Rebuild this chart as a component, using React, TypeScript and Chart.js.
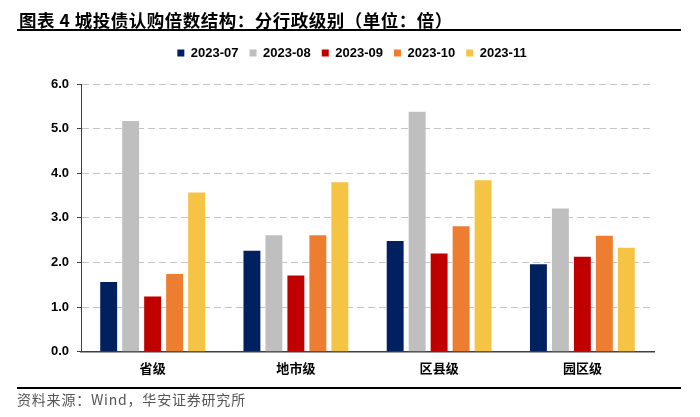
import React, { useEffect, useRef } from "react";
import { Chart, registerables } from "chart.js";

Chart.register(...registerables);

const categories = ["省级", "地市级", "区县级", "园区级"];
const seriesNames = ["2023-07", "2023-08", "2023-09", "2023-10", "2023-11"];
const values202307 = [1.56, 2.26, 2.48, 1.96];
const values202308 = [5.17, 2.61, 5.38, 3.21];
const values202309 = [1.24, 1.71, 2.2, 2.13];
const values202310 = [1.74, 2.61, 2.81, 2.6];
const values202311 = [3.57, 3.8, 3.84, 2.33];
const seriesColors = ["#002060", "#BFBFBF", "#C00000", "#ED7D31", "#F6C445"];
const yMin = 0;
const yMax = 6;
const yStep = 1;

const titleText = "图表 4 城投债认购倍数结构：分行政级别（单位：倍）";
const sourceText = "资料来源：Wind，华安证券研究所";

export default function App() {
  const canvasRef = useRef<HTMLCanvasElement | null>(null);

  useEffect(() => {
    const canvas = canvasRef.current;
    if (!canvas) return;
    const allValues = [values202307, values202308, values202309, values202310, values202311];

    const legendTweak = {
      id: "legendTweak",
      beforeInit(chart: any) {
        const legend = chart.legend;
        if (!legend) return;
        const origFit = legend.fit;
        legend.fit = function () {
          origFit.call(this);
          this.height = 48.5;
        };
      },
      afterLayout(chart: any) {
        const legend = chart.legend;
        if (!legend) return;
        legend.left += 25;
        legend.right += 25;
      },
    };

    const chart = new Chart(canvas, {
      type: "bar",
      data: {
        labels: categories,
        datasets: seriesNames.map((name, i) => ({
          label: name,
          data: allValues[i],
          backgroundColor: seriesColors[i],
          borderWidth: 0,
          categoryPercentage: 0.767,
          barPercentage: 0.77,
        })),
      },
      options: {
        animation: false,
        responsive: false,
        maintainAspectRatio: false,
        devicePixelRatio: 1,
        layout: { padding: { left: 0, right: 46, top: 35.5, bottom: 35.3 } },
        plugins: {
          legend: {
            display: true,
            position: "top",
            align: "center",
            labels: {
              boxWidth: 7,
              boxHeight: 7,
              padding: 11,
              color: "#000000",
              font: { family: "'Liberation Sans', Arial, sans-serif", size: 13, weight: "bold" },
            },
          },
          tooltip: { enabled: false },
          title: { display: false },
        },
        scales: {
          x: {
            afterFit(scale: any) {
              scale.height = 30;
            },
            grid: { display: false, drawTicks: false },
            border: { display: true, color: "#404040", width: 1.5 },
            ticks: {
              padding: 9,
              color: "#000000",
              font: { family: "'Noto Sans CJK SC', sans-serif", size: 13, weight: "bold" },
            },
          },
          y: {
            min: yMin,
            max: yMax,
            afterFit(scale: any) {
              scale.width = 81;
            },
            ticks: {
              stepSize: yStep,
              padding: 8,
              color: "#000000",
              font: { family: "'Liberation Sans', Arial, sans-serif", size: 13, weight: "bold" },
              callback: (v: any) => Number(v).toFixed(1),
            },
            grid: {
              color: "#C4C4C4",
              lineWidth: 1,
              drawTicks: true,
              tickLength: 4,
              tickColor: "#404040",
              tickBorderDash: [],
              tickWidth: 1,
            },
            border: { display: true, color: "#404040", width: 1, dash: [7, 4] },
          },
        },
      },
      plugins: [legendTweak],
    } as any);

    return () => chart.destroy();
  }, []);

  return (
    <div
      style={{
        position: "absolute",
        left: 0,
        top: 0,
        width: 700,
        height: 417,
        background: "#ffffff",
        overflow: "hidden",
      }}
    >
      <canvas
        ref={canvasRef}
        width={700}
        height={417}
        style={{ position: "absolute", left: 0, top: 0, width: 700, height: 417 }}
      />
      <div
        style={{
          position: "absolute",
          left: 19,
          top: 11,
          fontFamily: "'Noto Sans CJK SC', sans-serif",
          fontWeight: "bold",
          fontSize: 17.5,
          letterSpacing: "0.5px",
          lineHeight: "18px",
          color: "#000",
          whiteSpace: "nowrap",
        }}
      >
        {titleText}
      </div>
      <div style={{ position: "absolute", left: 17, top: 29, width: 664, height: 2, background: "#000" }} />
      <div style={{ position: "absolute", left: 17, top: 387, width: 664, height: 2, background: "#000" }} />
      <div
        style={{
          position: "absolute",
          left: 17,
          top: 391,
          fontFamily: "'Noto Sans CJK SC', sans-serif",
          fontSize: 14,
          letterSpacing: "0.8px",
          lineHeight: "16px",
          color: "#555555",
          whiteSpace: "nowrap",
        }}
      >
        {sourceText}
      </div>
    </div>
  );
}
